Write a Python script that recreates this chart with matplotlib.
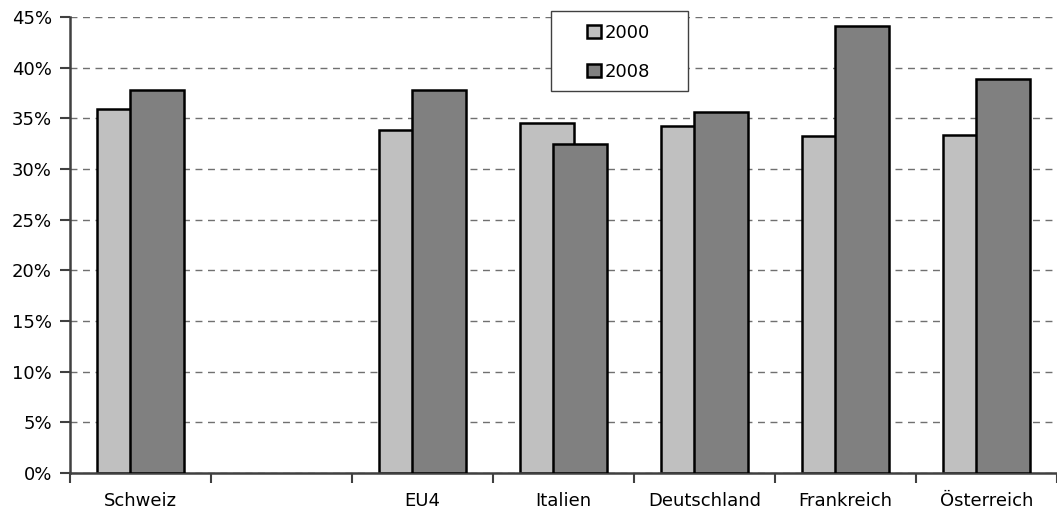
import numpy as np
import matplotlib.pyplot as plt
from matplotlib.patches import Rectangle
from matplotlib.ticker import FuncFormatter

# --- Data ---
categories = ['Schweiz', '', 'EU4', 'Italien', 'Deutschland', 'Frankreich', 'Österreich']
share_2000 = [35.9, np.nan, 33.8, 34.5, 34.2, 33.3, 33.4]
share_2008 = [37.8, np.nan, 37.8, 32.5, 35.6, 44.1, 38.9]
series_labels = ['2000', '2008']
y_ticks = np.arange(0, 46, 5)

plt.rcParams['font.family'] = ['DejaVu Sans']
plt.rcParams['font.size'] = 13

W, H = 1057, 518
fig = plt.figure(figsize=(W / 100, H / 100), dpi=100)
ax = fig.add_axes([70 / W, 45 / H, 987 / W, 456 / H])

x = np.arange(len(categories)) + 0.5
width = 0.383
offset = 0.117

ax.bar(x - offset, share_2000, width, color='#c0c0c0', edgecolor='black',
       linewidth=1.8, label=series_labels[0], zorder=2)
ax.bar(x + offset, share_2008, width, color='#808080', edgecolor='black',
       linewidth=1.8, label=series_labels[1], zorder=3)

ax.set_xlim(0, len(categories))
ax.set_ylim(0, 45)

# y axis
ax.set_yticks(y_ticks)
ax.yaxis.set_major_formatter(FuncFormatter(lambda v, _: f'{v:.0f}%'))
ax.yaxis.grid(True, linestyle=(0, (5, 4)), color='#707070', linewidth=1.0, zorder=0)
ax.set_axisbelow(True)

# x axis: ticks on category boundaries, labels centred in each slot
ax.set_xticks(np.arange(len(categories) + 1))
ax.set_xticklabels([])
ax.set_xticks(x, minor=True)
ax.set_xticklabels(categories, minor=True)
ax.tick_params(axis='x', which='major', direction='out', length=7, width=1.5, color='#404040')
ax.tick_params(axis='x', which='minor', length=0, pad=14)
ax.tick_params(axis='y', direction='out', length=7, width=1.5, color='#404040', pad=6)

for side in ['top', 'right']:
    ax.spines[side].set_visible(False)
for side in ['left', 'bottom']:
    ax.spines[side].set_color('#404040')
    ax.spines[side].set_linewidth(1.8)

# legend: entries without frame, box drawn separately
leg = fig.legend(loc='upper left', bbox_to_anchor=(587 / W, 1 - 24 / H),
                 frameon=False, borderpad=0, borderaxespad=0,
                 handlelength=0.75, handleheight=0.7, handletextpad=0.25,
                 labelspacing=1.15, fontsize=13)
fig.patches.append(Rectangle((551 / W, 1 - 91 / H), 137 / W, 80 / H,
                             transform=fig.transFigure, facecolor='white',
                             edgecolor='#404040', linewidth=1.0, zorder=4))
leg.set_zorder(5)

fig.savefig('out.png', dpi=100)
